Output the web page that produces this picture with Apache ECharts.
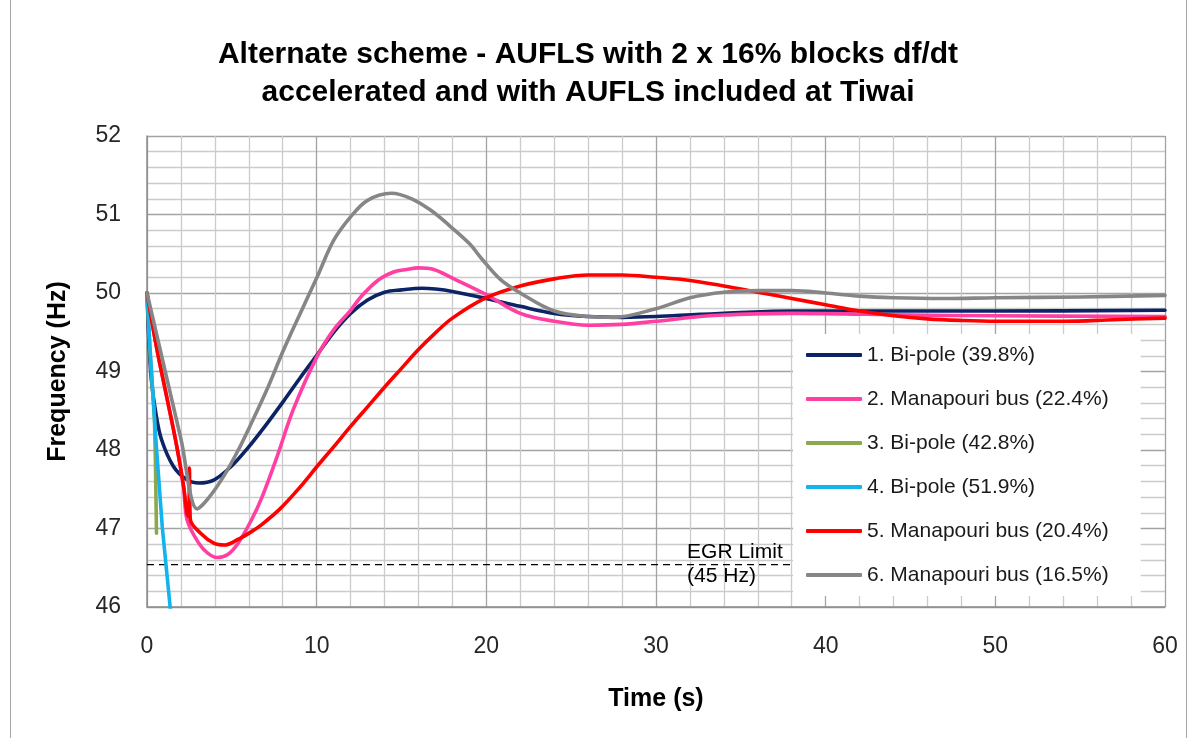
<!DOCTYPE html>
<html>
<head>
<meta charset="utf-8">
<title>AUFLS frequency response</title>
<script src="https://cdn.jsdelivr.net/npm/echarts@6/dist/echarts.min.js"></script>
<style>
  html, body { margin: 0; padding: 0; background: #ffffff; }
  #chart { width: 1193px; height: 738px; }
</style>
</head>
<body>
<div id="chart"></div>
<script>
// Frequency traces (time in seconds, frequency in Hz), one pair of arrays per case
const bipole398T = [0, 0.1, 0.26, 0.52, 0.86, 1.56, 2.36, 3.06, 3.96, 4.96, 5.96, 7.05, 8.04, 9.03, 10.02, 11.0, 12.0, 13.0, 14.0, 15.0, 16.2, 17.0, 18.0, 20.0, 22.0, 24.0, 26.0, 28.0, 30.0, 32.6, 34.0, 38.0, 45.0, 50.0, 60.0];
const bipole398F = [50, 49.45, 48.89, 48.47, 48.13, 47.79, 47.62, 47.58, 47.62, 47.79, 48.03, 48.33, 48.62, 48.92, 49.21, 49.50, 49.74, 49.91, 50.01, 50.04, 50.06, 50.05, 50.02, 49.93, 49.83, 49.74, 49.70, 49.69, 49.70, 49.73, 49.74, 49.77, 49.77, 49.77, 49.78];

const manapouri224T = [0, 0.56, 1.16, 1.76, 2.16, 2.36, 3.06, 3.56, 4.12, 4.76, 5.36, 6.16, 6.76, 7.64, 8.63, 10.02, 11.0, 12.0, 12.6, 13.6, 14.57, 15.3, 16.0, 16.9, 18.0, 20.0, 22.0, 24.0, 26.0, 28.0, 30.0, 32.6, 34.0, 38.0, 45.0, 50.0, 60.0];
const manapouri224F = [50, 49.31, 48.68, 48.04, 47.53, 47.11, 46.81, 46.69, 46.63, 46.67, 46.81, 47.11, 47.39, 47.90, 48.52, 49.19, 49.53, 49.78, 49.95, 50.16, 50.27, 50.30, 50.32, 50.30, 50.19, 49.98, 49.74, 49.64, 49.59, 49.60, 49.64, 49.70, 49.72, 49.74, 49.72, 49.71, 49.70];

const bipole428T = [0, 0.16, 0.44, 0.5, 0.56];
const bipole428F = [50, 49.3, 48.4, 47.8, 46.94];

const bipole519T = [0, 0.2, 0.5, 0.9, 1.5];
const bipole519F = [50, 49.22, 48.2, 47.02, 45.7];

const manapouri204T = [0, 0.56, 1.16, 1.76, 2.16, 2.36, 2.46, 2.5, 2.55, 3.16, 3.96, 4.56, 5.36, 6.16, 6.76, 7.84, 9.03, 10.02, 11.0, 12.0, 13.0, 14.0, 15.0, 16.0, 16.94, 18.0, 20.0, 22.0, 24.0, 26.0, 28.0, 30.0, 32.0, 34.0, 36.0, 38.0, 40.0, 42.0, 44.0, 46.0, 48.0, 50.0, 54.0, 57.0, 60.0];
const manapouri204F = [50, 49.31, 48.68, 48.04, 47.53, 47.19, 47.15, 47.77, 47.12, 46.94, 46.81, 46.79, 46.86, 46.96, 47.05, 47.25, 47.53, 47.79, 48.04, 48.30, 48.55, 48.80, 49.04, 49.28, 49.48, 49.68, 49.94, 50.09, 50.18, 50.23, 50.23, 50.20, 50.16, 50.09, 50.01, 49.93, 49.85, 49.77, 49.71, 49.67, 49.65, 49.64, 49.64, 49.66, 49.68];

const manapouri165T = [0, 1.0, 2.0, 2.96, 3.6, 4.56, 5.5, 6.06, 7.05, 8.04, 9.03, 10.02, 11.0, 12.0, 13.0, 14.4, 15.6, 16.75, 17.87, 19.0, 19.75, 20.84, 22.0, 24.0, 26.0, 27.5, 30.0, 32.0, 34.0, 36.0, 38.0, 40.0, 42.0, 44.0, 47.0, 50.0, 55.0, 60.0];
const manapouri165F = [50, 49.07, 48.14, 47.25, 47.38, 47.68, 48.05, 48.30, 48.76, 49.27, 49.74, 50.20, 50.67, 50.97, 51.18, 51.27, 51.20, 51.05, 50.85, 50.63, 50.43, 50.17, 50.00, 49.77, 49.70, 49.69, 49.80, 49.94, 50.01, 50.03, 50.03, 50.00, 49.96, 49.94, 49.93, 49.94, 49.95, 49.97];

const seriesNames = [
  '1. Bi-pole (39.8%)',
  '2. Manapouri bus (22.4%)',
  '3. Bi-pole (42.8%)',
  '4. Bi-pole (51.9%)',
  '5. Manapouri bus (20.4%)',
  '6. Manapouri bus (16.5%)'
];
const seriesColors = ['#0c2465', '#ff40a2', '#8ba84c', '#12b4ee', '#ff0000', '#868686'];

// EGR limit reference line, drawn up to the legend's left edge
const egrLimit = 46.54;
const egrSpan = [0, 38.1];
const egrLabelTime = 31.8;
const egrLabel = 'EGR Limit\n(45 Hz)';

// Axis ranges and tick spacing
const timeRange = [0, 60];
const timeStep = 10;
const freqRange = [46, 52];
const freqStep = 1;

const FONT = '"Liberation Sans", Arial, sans-serif';

function pairs(ts, fs) {
  return ts.map((t, i) => [t, fs[i]]);
}

const traces = [
  pairs(bipole398T, bipole398F),
  pairs(manapouri224T, manapouri224F),
  pairs(bipole428T, bipole428F),
  pairs(bipole519T, bipole519F),
  pairs(manapouri204T, manapouri204F),
  pairs(manapouri165T, manapouri165F)
];

const lineSeries = traces.map((data, i) => ({
  name: seriesNames[i],
  type: 'line',
  data: data,
  showSymbol: false,
  symbol: 'none',
  smooth: (i === 2 || i === 3) ? false : 0.35,
  clip: true,
  lineStyle: { color: seriesColors[i], width: 3.6, cap: 'round', join: 'round' },
  itemStyle: { color: seriesColors[i] },
  emphasis: { disabled: true }
}));

const egrSeries = {
  name: 'EGR',
  type: 'line',
  data: [[egrSpan[0], egrLimit], [egrSpan[1], egrLimit]],
  showSymbol: false,
  symbol: 'none',
  silent: true,
  z: 1,
  lineStyle: { color: '#000000', width: 1.4, type: [7, 5] },
  markPoint: {
    silent: true,
    symbol: 'circle',
    symbolSize: 1,
    itemStyle: { color: 'rgba(0,0,0,0)' },
    label: {
      show: true,
      position: 'right',
      distance: 0,
      formatter: egrLabel,
      fontFamily: FONT,
      fontSize: 21,
      lineHeight: 24,
      color: '#000000',
      align: 'left',
      verticalAlign: 'middle'
    },
    data: [{ coord: [egrLabelTime, egrLimit] }]
  }
};

const chart = echarts.init(document.getElementById('chart'), null, { renderer: 'canvas' });

chart.setOption({
  animation: false,
  backgroundColor: '#ffffff',
  title: {
    text: 'Alternate scheme - AUFLS with 2 x 16% blocks df/dt\naccelerated and with AUFLS included at Tiwai',
    left: 583,
    top: 31,
    textAlign: 'center',
    textStyle: { fontFamily: FONT, fontSize: 30, fontWeight: 'bold', color: '#000000', lineHeight: 38 }
  },
  graphic: [
    {
      type: 'rect',
      silent: true,
      shape: { x: 10.5, y: -2, width: 1176, height: 742 },
      style: { fill: 'none', stroke: '#a6a6a6', lineWidth: 1 }
    }
  ],
  legend: {
    data: seriesNames,
    orient: 'vertical',
    left: 793,
    top: 334,
    icon: 'roundRect',
    itemWidth: 56,
    itemHeight: 4,
    itemGap: 22,
    padding: [10, 32, 10, 13],
    backgroundColor: '#ffffff',
    selectedMode: false,
    textStyle: { fontFamily: FONT, fontSize: 21, lineHeight: 22, color: '#1a1a1a' }
  },
  grid: { left: 147, right: 28, top: 136, bottom: 131, containLabel: false },
  xAxis: {
    type: 'value',
    min: timeRange[0],
    max: timeRange[1],
    interval: timeStep,
    name: 'Time (s)',
    nameLocation: 'middle',
    nameGap: 80,
    nameTextStyle: { fontFamily: FONT, fontSize: 25, fontWeight: 'bold', color: '#000000' },
    axisLine: { show: true, lineStyle: { color: '#8c8c8c', width: 1.5 } },
    axisTick: { show: false },
    minorTick: { show: false, splitNumber: 5 },
    axisLabel: { fontFamily: FONT, fontSize: 23, margin: 28, color: '#262626' },
    splitLine: { show: true, lineStyle: { color: '#a3a3a3', width: 1.3 } },
    minorSplitLine: { show: true, lineStyle: { color: '#cbcbcb', width: 1.3 } }
  },
  yAxis: {
    type: 'value',
    min: freqRange[0],
    max: freqRange[1],
    interval: freqStep,
    name: 'Frequency (Hz)',
    nameLocation: 'middle',
    nameRotate: 90,
    nameGap: 76,
    nameTextStyle: { fontFamily: FONT, fontSize: 25, fontWeight: 'bold', color: '#000000' },
    axisLine: { show: true, lineStyle: { color: '#8c8c8c', width: 1.5 } },
    axisTick: { show: false },
    minorTick: { show: false, splitNumber: 5 },
    axisLabel: { fontFamily: FONT, fontSize: 23, margin: 26, color: '#262626' },
    splitLine: { show: true, lineStyle: { color: '#a3a3a3', width: 1.3 } },
    minorSplitLine: { show: true, lineStyle: { color: '#cbcbcb', width: 1.3 } }
  },
  series: [egrSeries].concat(lineSeries)
});
</script>
</body>
</html>
